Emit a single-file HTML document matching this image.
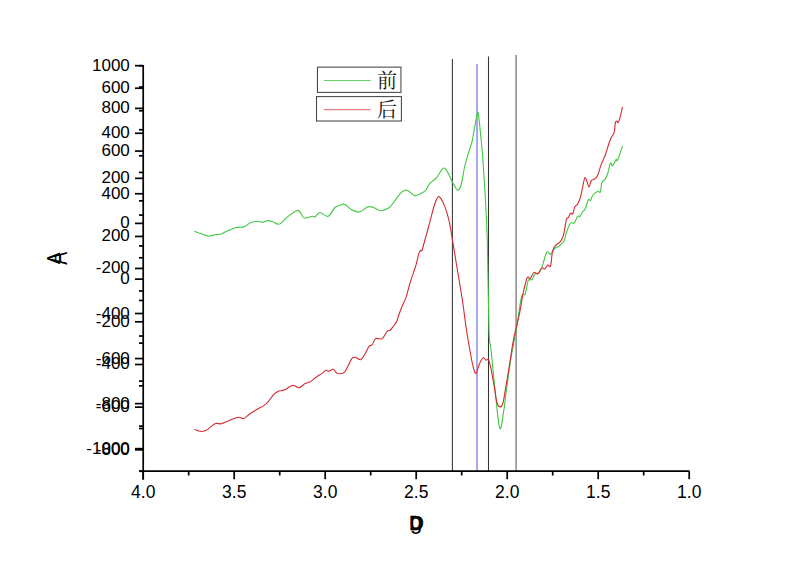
<!DOCTYPE html>
<html><head><meta charset="utf-8"><title>chart</title>
<style>html,body{margin:0;padding:0;background:#fff;}svg{display:block;}</style>
</head><body>
<svg width="800" height="565" viewBox="0 0 800 565">
<rect width="800" height="565" fill="#fff"/>
<line x1="452.4" y1="59" x2="452.4" y2="471" stroke="#333" stroke-width="1.05"/>
<line x1="477" y1="64" x2="477" y2="471" stroke="#7474e6" stroke-width="1.25"/>
<line x1="488.5" y1="56.5" x2="488.5" y2="471" stroke="#333" stroke-width="1.05"/>
<line x1="516.1" y1="55" x2="516.1" y2="471" stroke="#808080" stroke-width="1.4"/>
<path d="M194.4,231.3 C195.6,231.7 198.9,233.0 201.3,233.8 C203.7,234.6 206.5,235.8 208.8,236.0 C211.1,236.2 212.9,235.1 215.0,234.8 C217.1,234.5 219.4,234.6 221.3,234.0 C223.2,233.4 223.8,232.6 226.3,231.5 C228.8,230.4 233.4,228.3 236.3,227.5 C239.2,226.7 241.5,227.6 243.8,226.9 C246.1,226.2 247.9,224.0 250.0,223.1 C252.1,222.2 254.2,221.4 256.3,221.3 C258.4,221.2 260.6,222.4 262.5,222.3 C264.4,222.2 265.8,220.7 267.5,220.6 C269.2,220.5 270.5,220.9 272.5,221.5 C274.5,222.1 276.9,224.9 279.4,224.1 C281.9,223.3 284.6,219.2 287.5,216.9 C290.4,214.7 294.8,211.4 296.9,210.6 C299.0,209.8 298.8,210.7 300.0,211.9 C301.2,213.2 302.3,217.4 304.4,218.1 C306.5,218.8 310.7,216.5 312.5,216.3 C314.3,216.1 313.8,217.5 315.0,216.9 C316.2,216.3 317.8,212.6 320.0,212.5 C322.2,212.4 325.6,217.1 328.1,216.3 C330.6,215.5 332.6,209.5 335.0,207.5 C337.4,205.5 340.8,204.9 342.5,204.4 C344.2,203.9 343.5,203.8 345.0,204.6 C346.5,205.4 349.2,208.2 351.3,209.4 C353.4,210.6 355.8,211.6 357.5,211.9 C359.2,212.2 359.6,212.1 361.3,211.3 C363.0,210.5 365.5,207.6 367.5,206.9 C369.5,206.2 371.9,207.1 373.1,207.3 C374.4,207.5 373.6,207.7 375.0,208.3 C376.4,208.9 379.0,210.8 381.4,210.7 C383.8,210.6 386.9,209.3 389.3,207.5 C391.7,205.7 393.7,202.1 395.7,199.6 C397.7,197.1 399.6,194.0 401.3,192.4 C403.0,190.8 404.7,190.1 406.0,190.0 C407.3,189.9 407.7,190.7 409.2,191.6 C410.7,192.5 412.8,195.3 414.8,195.6 C416.8,195.9 419.3,194.1 421.2,193.2 C423.1,192.3 424.7,191.5 426.0,190.0 C427.3,188.5 427.5,186.1 429.2,184.1 C430.9,182.1 433.9,180.6 436.3,177.9 C438.7,175.2 441.5,169.0 443.4,168.1 C445.3,167.2 446.3,170.4 447.8,172.6 C449.3,174.8 450.6,178.5 452.2,181.4 C453.8,184.3 456.1,189.5 457.6,190.0 C459.1,190.5 460.0,188.4 461.2,184.5 C462.4,180.6 463.5,171.7 464.7,166.5 C465.9,161.3 467.2,157.4 468.3,153.6 C469.4,149.8 470.8,146.0 471.5,143.5 C472.2,141.0 472.1,141.9 472.7,138.5 C473.3,135.1 474.6,127.4 475.4,123.0 C476.2,118.6 477.1,113.1 477.7,112.2 C478.3,111.3 478.4,113.8 478.9,117.7 C479.4,121.6 480.1,129.5 480.7,135.4 C481.3,141.3 481.8,145.7 482.4,153.1 C483.0,160.5 483.7,171.8 484.2,179.6 C484.7,187.4 484.9,189.8 485.4,200.0 C485.9,210.2 486.7,218.9 487.3,240.6 C487.9,262.3 488.4,311.9 489.0,330.0 C489.6,348.1 490.0,339.8 491.0,349.5 C492.0,359.2 493.4,375.3 494.9,388.4 C496.3,401.5 498.2,424.3 499.7,428.2 C501.1,432.1 502.5,418.3 503.6,411.7 C504.8,405.1 505.3,397.8 506.6,388.4 C507.9,379.0 509.8,365.0 511.4,355.3 C513.0,345.6 514.6,339.7 516.3,330.0 C518.0,320.3 519.9,303.1 521.4,297.1 C522.9,291.1 524.2,296.9 525.3,294.2 C526.4,291.4 527.1,283.0 528.2,280.6 C529.3,278.2 531.0,280.7 532.1,279.6 C533.2,278.5 533.9,274.9 535.0,273.8 C536.1,272.7 537.8,273.8 538.9,272.8 C540.0,271.8 540.5,271.3 541.8,267.9 C543.1,264.5 545.2,254.7 546.7,252.4 C548.2,250.1 549.3,255.0 550.6,254.3 C551.9,253.7 553.2,249.8 554.5,248.5 C555.8,247.2 557.5,247.1 558.4,246.5 C559.3,245.9 559.0,246.0 560.0,245.1 C561.0,244.2 563.1,242.9 564.2,240.8 C565.3,238.7 565.3,235.2 566.4,232.3 C567.5,229.4 569.3,224.6 570.6,223.1 C571.9,221.6 573.0,224.3 574.2,223.1 C575.4,221.9 576.8,217.1 577.7,216.0 C578.6,214.9 579.0,217.4 579.8,216.7 C580.6,216.0 581.8,213.2 582.7,211.8 C583.7,210.4 584.6,210.2 585.5,208.2 C586.4,206.2 587.5,201.0 588.3,199.7 C589.1,198.4 589.8,201.2 590.5,200.5 C591.2,199.8 591.8,196.8 592.6,195.5 C593.4,194.2 594.5,193.4 595.4,192.7 C596.3,192.0 597.4,191.3 598.2,191.2 C599.0,191.1 599.8,193.4 600.4,192.0 C601.0,190.6 601.1,184.7 601.8,182.7 C602.5,180.7 603.6,181.3 604.6,179.9 C605.6,178.5 606.5,177.0 607.5,174.2 C608.5,171.4 609.6,164.4 610.5,163.0 C611.4,161.6 611.7,166.4 612.6,165.8 C613.5,165.2 615.3,160.3 616.1,159.4 C616.9,158.5 616.4,162.4 617.5,160.2 C618.6,158.0 621.7,148.4 622.5,146.0" fill="none" stroke="#40c840" stroke-width="1.1" stroke-linejoin="round"/>
<path d="M194.4,429.1 C194.9,429.4 196.2,430.2 197.5,430.6 C198.8,431.0 200.4,431.6 201.9,431.5 C203.4,431.4 204.9,431.1 206.3,430.3 C207.8,429.5 209.1,428.0 210.6,426.9 C212.1,425.8 213.8,424.0 215.6,423.5 C217.4,423.0 219.3,424.2 221.3,423.8 C223.3,423.4 225.4,422.2 227.5,421.3 C229.6,420.4 231.8,419.2 233.8,418.5 C235.8,417.8 237.7,417.3 239.4,417.3 C241.1,417.3 242.0,419.1 243.8,418.5 C245.6,417.9 247.9,415.2 250.0,413.8 C252.1,412.4 254.0,411.2 256.3,409.8 C258.6,408.4 261.8,406.9 263.8,405.6 C265.8,404.3 266.4,403.8 268.1,401.9 C269.8,400.0 272.0,396.2 273.8,394.4 C275.6,392.6 277.5,391.6 278.8,391.0 C280.1,390.4 280.8,390.9 281.9,390.6 C283.0,390.3 283.9,390.3 285.7,389.4 C287.5,388.5 290.5,385.5 292.7,385.2 C294.9,384.9 297.1,387.9 299.1,387.7 C301.1,387.4 302.9,384.7 304.8,383.7 C306.7,382.7 308.5,382.8 310.5,381.6 C312.5,380.4 314.8,378.1 316.8,376.7 C318.8,375.3 321.0,374.2 322.5,373.1 C324.0,372.0 324.9,370.6 326.0,370.3 C327.1,370.0 327.7,371.5 328.9,371.3 C330.1,371.1 331.8,369.0 333.1,369.3 C334.4,369.6 335.6,372.4 336.7,373.1 C337.8,373.9 338.2,373.9 339.5,373.8 C340.8,373.7 343.0,373.7 344.4,372.4 C345.8,371.1 346.7,368.4 348.0,366.0 C349.3,363.6 350.9,359.6 352.2,358.2 C353.5,356.8 354.4,357.2 355.8,357.5 C357.2,357.8 359.2,360.3 360.7,359.7 C362.2,359.1 363.6,356.2 365.0,354.0 C366.4,351.8 368.0,347.7 369.2,346.2 C370.4,344.7 371.1,346.0 372.1,344.8 C373.1,343.6 374.1,339.8 375.3,338.8 C376.5,337.8 378.1,338.9 379.3,338.8 C380.5,338.7 381.3,339.7 382.6,338.4 C383.9,337.1 386.1,332.4 387.3,331.1 C388.5,329.8 388.9,331.2 389.9,330.4 C390.9,329.6 392.1,327.8 393.2,326.4 C394.3,325.0 395.6,323.9 396.6,321.8 C397.6,319.7 398.2,316.6 399.2,313.8 C400.2,311.0 401.4,307.9 402.5,305.2 C403.6,302.5 405.0,300.2 405.9,297.9 C406.8,295.6 407.0,294.0 407.8,291.2 C408.6,288.4 409.2,285.4 410.5,281.3 C411.8,277.2 414.2,271.0 415.6,266.4 C417.0,261.8 418.0,256.3 418.8,253.7 C419.6,251.0 419.9,251.1 420.4,250.5 C420.9,249.9 421.1,252.6 422.0,250.2 C422.9,247.8 424.7,240.9 426.0,236.2 C427.3,231.5 428.4,227.1 429.9,221.8 C431.3,216.5 433.2,208.5 434.7,204.3 C436.2,200.1 437.2,196.6 438.8,196.6 C440.4,196.6 442.2,200.4 444.0,204.6 C445.8,208.8 447.9,215.8 449.3,221.8 C450.7,227.8 451.3,233.1 452.6,240.6 C453.9,248.1 455.3,257.3 456.9,267.0 C458.5,276.7 460.6,288.8 462.2,299.0 C463.8,309.2 464.9,319.2 466.2,328.0 C467.5,336.8 469.0,345.5 470.2,352.0 C471.4,358.5 472.2,363.4 473.2,367.0 C474.2,370.6 475.0,373.9 476.0,373.4 C477.0,372.9 478.2,366.6 479.4,364.0 C480.6,361.4 482.2,358.4 483.3,357.8 C484.4,357.2 485.2,359.9 486.1,360.2 C487.0,360.5 487.7,358.2 488.5,359.6 C489.3,361.1 490.1,364.8 491.0,368.9 C491.9,373.0 492.9,379.0 493.9,384.5 C494.9,390.0 495.8,398.3 496.8,402.0 C497.8,405.7 498.7,406.5 499.7,406.8 C500.7,407.1 501.7,407.1 502.7,404.0 C503.7,400.9 504.3,395.9 505.6,388.4 C506.9,380.9 509.1,367.4 510.4,359.2 C511.7,351.0 512.1,346.6 513.6,339.0 C515.1,331.4 517.9,321.5 519.5,313.7 C521.1,305.9 522.0,298.3 523.3,292.3 C524.6,286.3 526.1,280.0 527.2,277.7 C528.4,275.4 529.1,279.5 530.2,278.6 C531.3,277.7 532.7,273.2 534.0,272.4 C535.3,271.6 536.6,274.6 537.9,273.8 C539.2,273.1 540.7,268.7 541.8,267.9 C542.9,267.1 543.7,269.4 544.7,268.9 C545.7,268.4 546.7,265.5 547.7,265.0 C548.7,264.5 549.8,268.3 550.6,266.0 C551.4,263.7 551.7,254.8 552.5,251.4 C553.3,248.0 554.1,247.2 555.4,245.6 C556.7,244.0 558.9,243.4 560.3,241.7 C561.6,240.0 562.5,238.9 563.5,235.2 C564.5,231.5 565.6,222.5 566.4,219.6 C567.2,216.7 567.8,218.6 568.5,217.5 C569.2,216.4 569.9,213.8 570.6,213.2 C571.3,212.6 572.0,215.0 572.7,213.9 C573.4,212.8 574.1,208.5 574.9,206.8 C575.7,205.2 576.8,205.7 577.7,204.0 C578.6,202.3 579.7,199.7 580.5,196.9 C581.3,194.1 582.0,190.2 582.7,187.0 C583.4,183.8 584.1,178.8 584.8,177.8 C585.5,176.9 586.2,179.8 586.9,181.3 C587.6,182.8 588.3,187.1 589.0,187.0 C589.7,186.9 590.4,181.9 591.2,180.6 C592.0,179.3 593.0,180.0 594.0,179.2 C595.0,178.4 596.3,178.2 597.5,175.7 C598.7,173.2 599.9,167.9 601.2,164.4 C602.5,160.9 604.2,158.0 605.5,154.5 C606.8,151.0 608.0,146.0 609.0,143.2 C610.0,140.4 610.4,139.2 611.2,137.5 C612.0,135.8 613.3,135.7 614.0,133.2 C614.7,130.7 614.9,124.6 615.4,122.6 C615.9,120.6 616.6,121.2 617.1,121.2 C617.6,121.2 617.7,123.4 618.2,122.6 C618.8,121.8 619.7,118.8 620.4,116.2 C621.1,113.6 622.1,108.5 622.5,107.0" fill="none" stroke="#d42a32" stroke-width="1.1" stroke-linejoin="round"/>
<g stroke="#000" stroke-width="1.7" fill="none">
<line x1="143.2" y1="64.9" x2="143.2" y2="479.7"/>
<line x1="142.39999999999998" y1="471.2" x2="689.6" y2="471.2"/>
<line x1="135.0" y1="65.70" x2="143.2" y2="65.70"/>
<line x1="139.0" y1="87.04" x2="143.2" y2="87.04"/>
<line x1="135.0" y1="108.38" x2="143.2" y2="108.38"/>
<line x1="139.0" y1="129.73" x2="143.2" y2="129.73"/>
<line x1="135.0" y1="151.07" x2="143.2" y2="151.07"/>
<line x1="139.0" y1="172.41" x2="143.2" y2="172.41"/>
<line x1="135.0" y1="193.75" x2="143.2" y2="193.75"/>
<line x1="139.0" y1="215.09" x2="143.2" y2="215.09"/>
<line x1="135.0" y1="236.44" x2="143.2" y2="236.44"/>
<line x1="139.0" y1="257.78" x2="143.2" y2="257.78"/>
<line x1="135.0" y1="279.12" x2="143.2" y2="279.12"/>
<line x1="139.0" y1="300.46" x2="143.2" y2="300.46"/>
<line x1="135.0" y1="321.81" x2="143.2" y2="321.81"/>
<line x1="139.0" y1="343.15" x2="143.2" y2="343.15"/>
<line x1="135.0" y1="364.49" x2="143.2" y2="364.49"/>
<line x1="139.0" y1="385.83" x2="143.2" y2="385.83"/>
<line x1="135.0" y1="407.17" x2="143.2" y2="407.17"/>
<line x1="139.0" y1="428.52" x2="143.2" y2="428.52"/>
<line x1="135.0" y1="449.86" x2="143.2" y2="449.86"/>
<line x1="139.0" y1="471.20" x2="143.2" y2="471.20"/>
<line x1="139.0" y1="65.70" x2="143.2" y2="65.70"/>
<line x1="135.0" y1="88.23" x2="143.2" y2="88.23"/>
<line x1="139.0" y1="110.76" x2="143.2" y2="110.76"/>
<line x1="135.0" y1="133.28" x2="143.2" y2="133.28"/>
<line x1="139.0" y1="155.81" x2="143.2" y2="155.81"/>
<line x1="135.0" y1="178.34" x2="143.2" y2="178.34"/>
<line x1="139.0" y1="200.87" x2="143.2" y2="200.87"/>
<line x1="135.0" y1="223.39" x2="143.2" y2="223.39"/>
<line x1="139.0" y1="245.92" x2="143.2" y2="245.92"/>
<line x1="135.0" y1="268.45" x2="143.2" y2="268.45"/>
<line x1="139.0" y1="290.98" x2="143.2" y2="290.98"/>
<line x1="135.0" y1="313.51" x2="143.2" y2="313.51"/>
<line x1="139.0" y1="336.03" x2="143.2" y2="336.03"/>
<line x1="135.0" y1="358.56" x2="143.2" y2="358.56"/>
<line x1="139.0" y1="381.09" x2="143.2" y2="381.09"/>
<line x1="135.0" y1="403.62" x2="143.2" y2="403.62"/>
<line x1="139.0" y1="426.14" x2="143.2" y2="426.14"/>
<line x1="135.0" y1="448.67" x2="143.2" y2="448.67"/>
<line x1="139.0" y1="471.20" x2="143.2" y2="471.20"/>
<line x1="143.20" y1="471.2" x2="143.20" y2="479.20"/>
<line x1="188.70" y1="471.2" x2="188.70" y2="475.50"/>
<line x1="234.20" y1="471.2" x2="234.20" y2="479.20"/>
<line x1="279.70" y1="471.2" x2="279.70" y2="475.50"/>
<line x1="325.20" y1="471.2" x2="325.20" y2="479.20"/>
<line x1="370.70" y1="471.2" x2="370.70" y2="475.50"/>
<line x1="416.20" y1="471.2" x2="416.20" y2="479.20"/>
<line x1="461.70" y1="471.2" x2="461.70" y2="475.50"/>
<line x1="507.20" y1="471.2" x2="507.20" y2="479.20"/>
<line x1="552.70" y1="471.2" x2="552.70" y2="475.50"/>
<line x1="598.20" y1="471.2" x2="598.20" y2="479.20"/>
<line x1="643.70" y1="471.2" x2="643.70" y2="475.50"/>
<line x1="689.20" y1="471.2" x2="689.20" y2="479.20"/>
</g>
<g font-family="Liberation Sans, Arial, sans-serif" font-size="17" fill="#000">
<text x="129.8" y="70.70" text-anchor="end">1000</text>
<text x="129.8" y="113.38" text-anchor="end">800</text>
<text x="129.8" y="156.07" text-anchor="end">600</text>
<text x="129.8" y="198.75" text-anchor="end">400</text>
<text x="129.8" y="241.44" text-anchor="end">200</text>
<text x="129.8" y="284.12" text-anchor="end">0</text>
<text x="129.8" y="326.81" text-anchor="end">-200</text>
<text x="129.8" y="369.49" text-anchor="end">-400</text>
<text x="129.8" y="412.17" text-anchor="end">-600</text>
<text x="129.8" y="454.86" text-anchor="end">-800</text>
<text x="129.8" y="93.23" text-anchor="end">600</text>
<text x="129.8" y="138.28" text-anchor="end">400</text>
<text x="129.8" y="183.34" text-anchor="end">200</text>
<text x="129.8" y="228.39" text-anchor="end">0</text>
<text x="129.8" y="273.45" text-anchor="end">-200</text>
<text x="129.8" y="318.51" text-anchor="end">-400</text>
<text x="129.8" y="363.56" text-anchor="end">-600</text>
<text x="129.8" y="408.62" text-anchor="end">-800</text>
<text x="129.8" y="453.67" text-anchor="end">-1000</text>
<text x="143.20" y="497.8" font-size="17.5" text-anchor="middle">4.0</text>
<text x="234.20" y="497.8" font-size="17.5" text-anchor="middle">3.5</text>
<text x="325.20" y="497.8" font-size="17.5" text-anchor="middle">3.0</text>
<text x="416.20" y="497.8" font-size="17.5" text-anchor="middle">2.5</text>
<text x="507.20" y="497.8" font-size="17.5" text-anchor="middle">2.0</text>
<text x="598.20" y="497.8" font-size="17.5" text-anchor="middle">1.5</text>
<text x="689.20" y="497.8" font-size="17.5" text-anchor="middle">1.0</text>
</g>
<g font-family="Liberation Sans, Arial, sans-serif" font-weight="bold" fill="#000">
<text x="416.3" y="529.6" font-size="20.5" font-weight="normal" stroke="#000" stroke-width="0.5" text-anchor="middle">D</text>
<text x="416.2" y="529.2" font-size="22" font-weight="normal" text-anchor="middle">g</text>
<text transform="translate(66.9,258.45) rotate(-90) scale(1,1.44)" font-size="19.2" font-weight="normal" text-anchor="middle">A</text>
<text transform="translate(60.4,258.45) rotate(-90)" font-size="17.6" font-weight="normal" text-anchor="middle">A</text>
</g>
<g fill="none" stroke="#444" stroke-width="1.05">
<rect x="317.45" y="67.15" width="83.5" height="25.25"/>
<rect x="316.5" y="96.6" width="84.9" height="24.4"/>
</g>
<line x1="323.8" y1="80.5" x2="370.7" y2="80.5" stroke="#66d066" stroke-width="1.2"/>
<line x1="323.8" y1="109.6" x2="370.7" y2="109.6" stroke="#e08080" stroke-width="1.2"/>
<g font-family="Liberation Serif, Noto Serif CJK SC, serif" font-size="20" fill="#111">
<text x="377" y="88">前</text>
<text x="377" y="117">后</text>
</g>
</svg>
</body></html>
